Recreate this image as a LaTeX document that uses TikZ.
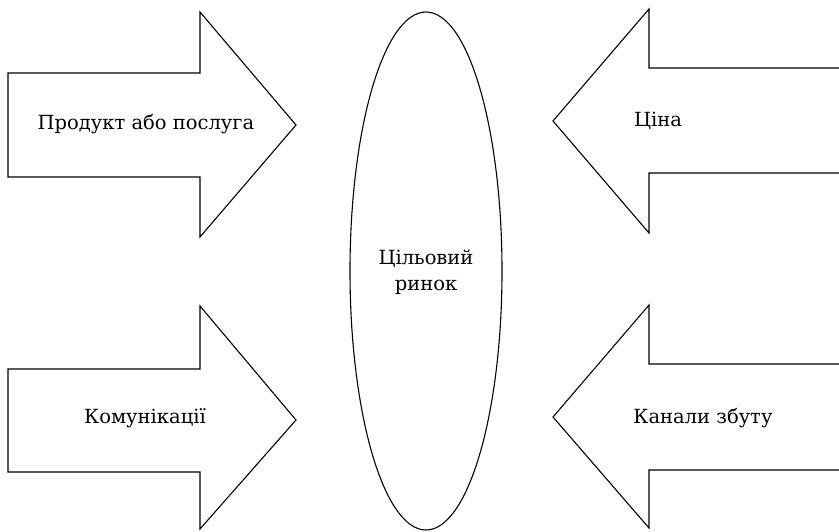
\documentclass[tikz,border=0pt]{standalone}
\usepackage{fontspec}
\setmainfont{DejaVu Serif}
\usetikzlibrary{shapes.geometric}
\begin{document}
\begin{tikzpicture}[x=1pt,y=-1pt,
  blk/.style={draw=black,line width=1.1pt,line join=miter},
  lbl/.style={font=\fontsize{19.5}{26}\selectfont,inner sep=0pt}]
\useasboundingbox (0,0) rectangle (839,531);
% top-left arrow
\draw[blk] (8,73) -- (200,73) -- (200,12) -- (296,125) -- (200,237) -- (200,177) -- (8,177) -- cycle;
% top-right arrow (open at right edge)
\draw[blk] (839,68) -- (649,68) -- (649,9) -- (553,121) -- (649,233) -- (649,173) -- (839,173);
% bottom-left arrow
\draw[blk] (8,369) -- (200,369) -- (200,306) -- (296,420) -- (200,529) -- (200,472) -- (8,472) -- cycle;
% bottom-right arrow
\draw[blk] (839,364) -- (649,364) -- (649,305) -- (553,417) -- (649,528) -- (649,470) -- (839,470);
% ellipse
\node[draw,line width=1.1pt,ellipse,minimum width=152pt,minimum height=518pt,inner sep=0pt] (market) at (426,271) {};
\node[lbl,align=center] (t) at (426,272) {Цільовий\\ринок};
\node[lbl] (a1) at (146,124) {Продукт або послуга};
\node[lbl] (a2) at (658,121) {Ціна};
\node[lbl] (a3) at (145,418) {Комунікації};
\node[lbl] (a4) at (703,418) {Канали збуту};
\end{tikzpicture}
\end{document}
